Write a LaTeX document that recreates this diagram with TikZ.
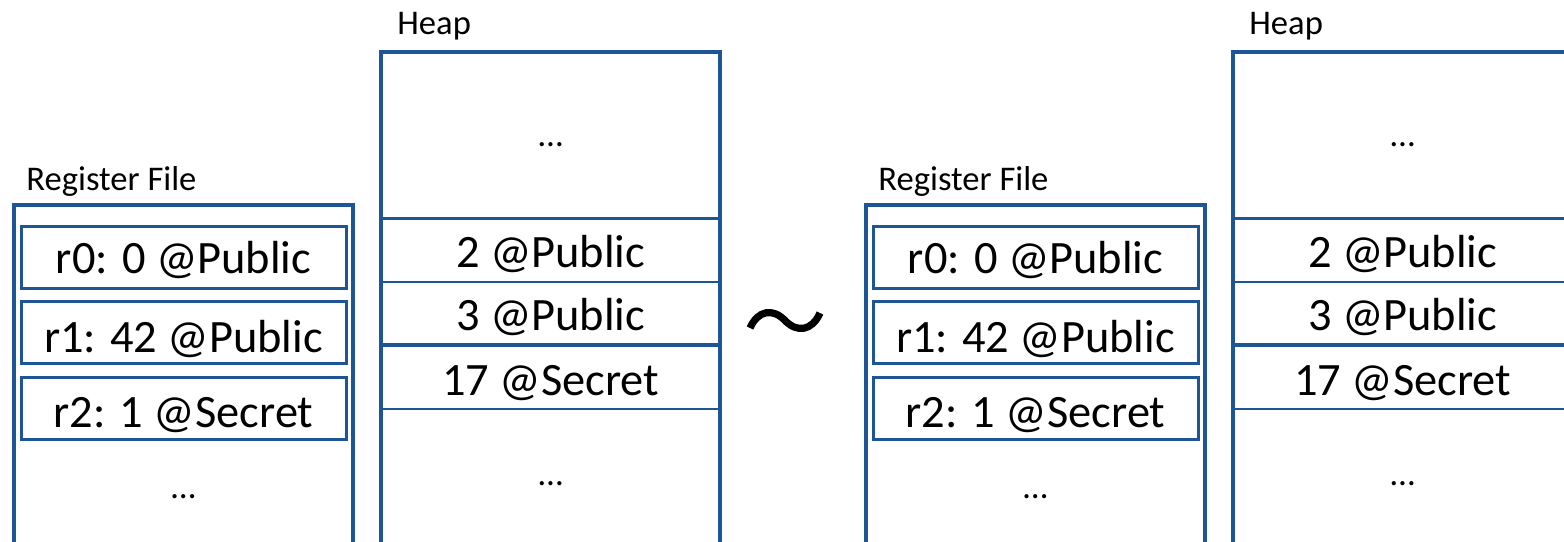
\documentclass[tikz,border=0pt]{standalone}
\usepackage{fontspec}
\setmainfont{Carlito}
\definecolor{memblue}{RGB}{30,85,150}
\begin{document}
\begin{tikzpicture}[x=0.5pt,y=-0.5pt,
  outerframe/.style={draw=memblue,line width=2pt},
  regcell/.style={draw=memblue,line width=1.5pt,minimum width=162.5pt,minimum height=31pt,inner sep=0pt,outer sep=0pt},
  heaprow/.style={draw=memblue,line width=1.25pt,minimum width=169.4pt,inner sep=0pt,outer sep=0pt},
  splitline/.style={draw=memblue,line width=2pt},
  celltext/.style={font=\fontsize{23.2}{28}\selectfont,inner sep=0pt,anchor=base},
  caption/.style={font=\fontsize{17.3}{21}\selectfont,inner sep=0pt,anchor=base west},
  dots/.style={font=\fontsize{17.5}{21}\selectfont,inner sep=0pt}]
\useasboundingbox (0,0) rectangle (1564,541);
\clip (0,0) rectangle (1564,541);

\foreach \dx/\s in {0/L,852/R}{
\begin{scope}[shift={(\dx,0)}]
  % register file
  \node[caption] (rfcap\s) at (26,190.7) {Register File};
  \node[regcell] (r0\s) at (183.5,257) {};
  \node[regcell] (r1\s) at (183.5,332.5) {};
  \node[regcell] (r2\s) at (183.5,408.7) {};
  \node[celltext] (t0\s) at (183.5,273) {r0: 0 @Public};
  \node[celltext] (t1\s) at (183.5,352) {r1: 42 @Public};
  \node[celltext] (t2\s) at (183.5,427) {r2: 1 @Secret};
  \node[dots] (rd\s) at (183.5,497) {…};
  \coordinate (rfnw\s) at (13.7,204.5);
  \coordinate (rfse\s) at (352.7,620);
  \draw[outerframe] (rfnw\s) rectangle (rfse\s);

  % heap
  \node[caption] (hcap\s) at (397,34.5) {Heap};
  \node[heaprow,minimum height=83.2pt] (h0\s) at (550.65,135.2) {};
  \node[heaprow,minimum height=31.75pt] (h1\s) at (550.65,250.15) {};
  \node[heaprow,minimum height=31.75pt] (h2\s) at (550.65,313.65) {};
  \node[heaprow,minimum height=31.8pt] (h3\s) at (550.65,377.2) {};
  \node[heaprow,minimum height=105pt] (h4\s) at (550.65,514) {};
  \node[dots] (hd0\s) at (550.65,145) {…};
  \node[celltext] (ht1\s) at (550.65,267) {2 @Public};
  \node[celltext] (ht2\s) at (550.65,330) {3 @Public};
  \node[celltext] (ht3\s) at (550.65,395) {17 @Secret};
  \node[dots] (hd4\s) at (550.65,484) {…};
  \draw[outerframe] (h4\s.south west) -- (h0\s.north west) -- (h0\s.north east) -- (h4\s.south east);
  \draw[splitline] (h3\s.north west) -- (h3\s.north east);
\end{scope}
}

% equivalence sign between the two states
\coordinate (eqc) at (785,320.5);
\draw[line width=3.6pt] ([shift={(-35,7.5)}]eqc)
  .. controls ([shift={(-27,-10.5)}]eqc) and ([shift={(-12,-12.5)}]eqc) .. (eqc)
  .. controls ([shift={(12,12.5)}]eqc) and ([shift={(27,10.5)}]eqc) .. ([shift={(35,-7.5)}]eqc);
\end{tikzpicture}
\end{document}
